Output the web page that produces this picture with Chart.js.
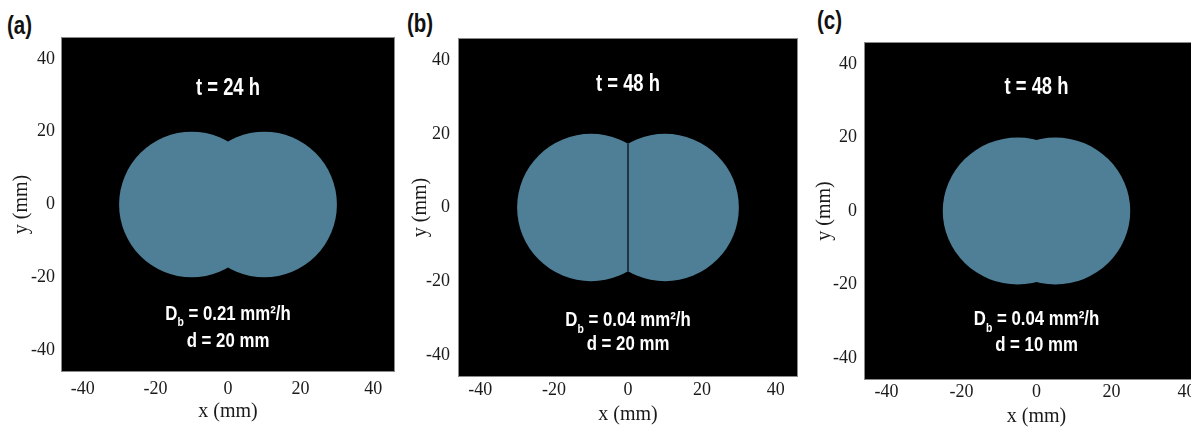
<!DOCTYPE html>
<html>
<head>
<meta charset="utf-8">
<script src="https://cdn.jsdelivr.net/npm/chart.js@4"></script>
<style>
  body { margin: 0; width: 1191px; height: 427px; overflow: hidden; background: #fff; position: relative; }
  canvas { position: absolute; top: 0; }
  .tag { position: absolute; font: bold 25px "Liberation Sans", Arial, sans-serif; color: #111;
         transform: scaleX(0.82); transform-origin: left top; }
</style>
</head>
<body>
<div class="tag" style="left:7px;top:11px">(a)</div>
<div class="tag" style="left:407px;top:9px">(b)</div>
<div class="tag" style="left:817px;top:6px">(c)</div>
<canvas id="pa" width="400" height="427" style="left:0px"></canvas>
<canvas id="pb" width="400" height="427" style="left:400px"></canvas>
<canvas id="pc" width="425" height="427" style="left:790px"></canvas>
<script>
// data
const lobeCentersX = [[-10, 10], [-10, 10], [-5, 5]];
const lobeCenterY = 0;
const lobeRadius = [20, 20, 20];
const splitLobes = [false, true, false];
const timeLabels = ["t = 24 h", "t = 48 h", "t = 48 h"];
const diffusion = ["0.21", "0.04", "0.04"];
const spacing = ["20", "20", "10"];
const tickValues = [-40, -20, 0, 20, 40];
const axisMin = -46, axisMax = 46;

const fill = "#4e7f96";
const serif = '"Liberation Serif", "DejaVu Serif", serif';
const sans = '"Liberation Sans", Arial, sans-serif';
const squeeze = 0.8; // the labels in the picture are a condensed bold face

// layout per panel (canvas pixels)
const layouts = [
  { id: "pa", yW: 61, xH: 55, top: 37, right: 5, tickPadX: 6, tickPadY: 6, titlePadY: 12, titlePadX: 5, textY: [31.8, -30, -37.5] },
  { id: "pb", yW: 58, xH: 50, top: 38, right: 2, tickPadX: 2, tickPadY: 8, titlePadY: 11, titlePadX: 2, textY: [33.4, -30.6, -37.2] },
  { id: "pc", yW: 74, xH: 47, top: 42, right: 6, tickPadX: 1, tickPadY: 7, titlePadY: 25, titlePadX: 0, textY: [33.6, -29.5, -36.4] }
];

function squeezed(ctx, text, x, y) {
  ctx.save();
  ctx.translate(x, y);
  ctx.scale(squeeze, 1);
  ctx.fillText(text, 0, 0);
  ctx.restore();
}

const shapePlugin = {
  id: "shape",
  beforeDatasetsDraw(chart) {
    const { ctx, chartArea: a, scales: { x, y } } = chart;
    const i = chart.options.plugins.shape.index;
    ctx.save();
    ctx.fillStyle = "#000";
    ctx.fillRect(a.left, a.top, a.right - a.left, a.bottom - a.top);
    ctx.strokeStyle = "#8a8a8a";
    ctx.lineWidth = 1;
    ctx.strokeRect(a.left + 0.5, a.top + 0.5, a.right - a.left - 1, a.bottom - a.top - 1);

    const r = lobeRadius[i];
    const rx = x.getPixelForValue(r) - x.getPixelForValue(0);
    const ry = y.getPixelForValue(0) - y.getPixelForValue(r);
    const cy = y.getPixelForValue(lobeCenterY);
    ctx.fillStyle = fill;
    lobeCentersX[i].forEach((c) => {
      ctx.save();
      if (splitLobes[i]) {
        const mid = x.getPixelForValue(0);
        ctx.beginPath();
        if (c < 0) ctx.rect(a.left, a.top, mid - a.left, a.bottom - a.top);
        else ctx.rect(mid, a.top, a.right - mid, a.bottom - a.top);
        ctx.clip();
      }
      ctx.beginPath();
      ctx.ellipse(x.getPixelForValue(c), cy, rx, ry, 0, 0, Math.PI * 2);
      ctx.fill();
      ctx.restore();
    });
    if (splitLobes[i]) {
      const c = lobeCentersX[i][1];
      const h = Math.sqrt(r * r - c * c);
      const mx = x.getPixelForValue(0);
      ctx.strokeStyle = "#13232b";
      ctx.lineWidth = 1.6;
      ctx.beginPath();
      ctx.moveTo(mx, y.getPixelForValue(h));
      ctx.lineTo(mx, y.getPixelForValue(-h));
      ctx.stroke();
    }
    ctx.restore();
  },
  afterDatasetsDraw(chart) {
    const { ctx, scales: { x, y } } = chart;
    const i = chart.options.plugins.shape.index;
    const ty = layouts[i].textY;
    const cx = x.getPixelForValue(0);
    const big = "bold 23px " + sans;
    const mid = "bold 21px " + sans;
    const sub = "bold 13px " + sans;
    ctx.save();
    ctx.fillStyle = "#fff";
    ctx.textBaseline = "middle";
    ctx.textAlign = "center";
    ctx.font = big;
    squeezed(ctx, timeLabels[i], cx, y.getPixelForValue(ty[0]));

    // D_b line, drawn in pieces so the subscript sits low
    const rest = " = " + diffusion[i] + " mm\u00b2/h";
    ctx.textAlign = "left";
    ctx.font = mid;
    const wD = ctx.measureText("D").width * squeeze;
    const wR = ctx.measureText(rest).width * squeeze;
    ctx.font = sub;
    const wb = ctx.measureText("b").width * squeeze;
    const px = cx - (wD + wb + wR) / 2;
    const py = y.getPixelForValue(ty[1]);
    ctx.font = mid;
    squeezed(ctx, "D", px, py);
    ctx.font = sub;
    squeezed(ctx, "b", px + wD, py + 9);
    ctx.font = mid;
    squeezed(ctx, rest, px + wD + wb, py);

    ctx.textAlign = "center";
    squeezed(ctx, "d = " + spacing[i] + " mm", cx, y.getPixelForValue(ty[2]));
    ctx.restore();
  }
};

layouts.forEach((L, i) => {
  const points = lobeCentersX[i].map((c) => ({ x: c, y: lobeCenterY }));
  new Chart(document.getElementById(L.id), {
    type: "scatter",
    data: { datasets: [{ data: points, pointRadius: 0, showLine: false }] },
    options: {
      responsive: false,
      animation: false,
      layout: { padding: { top: L.top, right: L.right, left: 0, bottom: 0 } },
      plugins: {
        legend: { display: false },
        tooltip: { enabled: false },
        shape: { index: i }
      },
      scales: {
        x: {
          type: "linear",
          min: axisMin,
          max: axisMax,
          afterBuildTicks: (s) => { s.ticks = tickValues.map((v) => ({ value: v })); },
          afterFit: (s) => { s.height = L.xH; },
          grid: { display: false, drawTicks: false },
          border: { display: false },
          ticks: {
            padding: L.tickPadX,
            color: "#1a1a1a",
            font: { family: serif, size: 18 }
          },
          title: {
            display: true,
            text: "x (mm)",
            color: "#1a1a1a",
            padding: { top: 0, bottom: L.titlePadX },
            font: { family: serif, size: 20, lineHeight: 1 }
          }
        },
        y: {
          type: "linear",
          min: axisMin,
          max: axisMax,
          afterBuildTicks: (s) => { s.ticks = tickValues.map((v) => ({ value: v })); },
          afterFit: (s) => { s.width = L.yW; },
          grid: { display: false, drawTicks: false },
          border: { display: false },
          ticks: {
            padding: L.tickPadY,
            color: "#1a1a1a",
            font: { family: serif, size: 18 }
          },
          title: {
            display: true,
            text: "y (mm)",
            color: "#1a1a1a",
            padding: { top: L.titlePadY, bottom: 0 },
            font: { family: serif, size: 20, lineHeight: 1 }
          }
        }
      }
    },
    plugins: [shapePlugin]
  });
});
</script>
</body>
</html>
